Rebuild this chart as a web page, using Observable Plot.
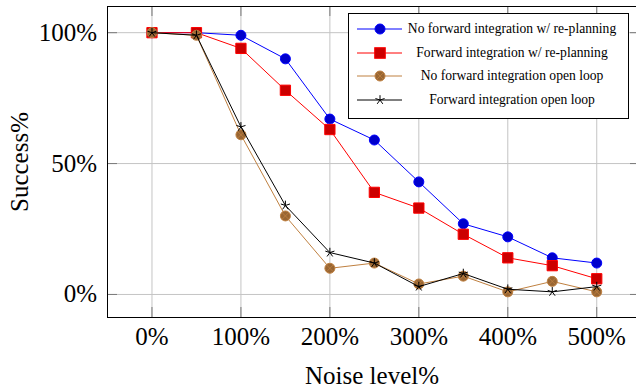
<!DOCTYPE html>
<html>
<head>
<meta charset="utf-8">
<script src="https://cdn.jsdelivr.net/npm/d3@7"></script>
<script src="https://cdn.jsdelivr.net/npm/@observablehq/plot@0.6"></script>
<style>
  html, body { margin: 0; padding: 0; background: #fff; }
  #wrap { position: relative; width: 636px; height: 390px; overflow: hidden; }
  #legend { position: absolute; left: 348px; top: 13px; width: 279px; height: 104px;
            border: 1px solid #000; background: #fff;
            font-family: "Liberation Serif", serif; font-size: 13.6px; color: #000; }
  .row { position: absolute; left: 0; right: 0; height: 20px; }
  .row svg { position: absolute; left: 0; top: 0; }
  .row span { position: absolute; left: 47px; right: 0; text-align: center; line-height: 20px; white-space: nowrap; }
</style>
</head>
<body>
<div id="wrap"><div id="chart"></div><div id="legend"></div></div>
<script>
// ---- data ----
const noise = [0, 50, 100, 150, 200, 250, 300, 350, 400, 450, 500];
const noFwdReplan = [100, 100, 99, 90, 67, 59, 43, 27, 22, 14, 12];
const fwdReplan   = [100, 100, 94, 78, 63, 39, 33, 23, 14, 11, 6];
const noFwdOpen   = [100, 99, 61, 30, 10, 12, 4, 7, 1, 5, 1];
const fwdOpen     = [100, 99, 64, 34, 16, 12, 3, 8, 2, 1, 3];
const seriesNames = [
  "No forward integration w/ re-planning",
  "Forward integration w/ re-planning",
  "No forward integration open loop",
  "Forward integration open loop"
];
const xTicks = [0, 100, 200, 300, 400, 500];
const yTicks = [0, 50, 100];
const xLabel = "Noise level%";
const yLabel = "Success%";

// ---- scales ----
const xDomain = [-50, 544.7];
const yDomain = [-8.8, 110];

const rows = (vals) => noise.map((x, i) => ({x, y: vals[i]}));
const dBlue = rows(noFwdReplan), dRed = rows(fwdReplan), dBrown = rows(noFwdOpen), dBlack = rows(fwdOpen);

// pgf-like 5-ray star
const star5 = {
  draw(ctx, size) {
    const r = Math.sqrt(size / Math.PI);
    for (let i = 0; i < 5; i++) {
      const a = i * 2 * Math.PI / 5;
      ctx.moveTo(0, 0);
      ctx.lineTo(r * Math.sin(a), -r * Math.cos(a));
    }
  }
};

const col = {
  blue: "#0000ff", blueFill: "#0000cc",
  red: "#ff0000", redFill: "#cc0000",
  brown: "#bf8040", brownFill: "#996633",
  black: "#000000"
};

const W = 636, H = 390, mL = 107, mT = 6, mB = 73, mR = 0;
const frameW = W - mL - mR, frameH = H - mT - mB;

const chart = Plot.plot({
  width: W, height: H,
  marginLeft: mL, marginTop: mT, marginBottom: mB, marginRight: mR,
  style: { fontFamily: "Liberation Serif, serif", fontSize: "25px", color: "#000", background: "#fff" },
  x: { domain: xDomain },
  y: { domain: yDomain },
  marks: [
    Plot.gridX(xTicks, { stroke: "#c4c4c4", strokeOpacity: 1 }),
    Plot.gridY(yTicks, { stroke: "#c4c4c4", strokeOpacity: 1 }),
    // inner ticks
    Plot.ruleX(xTicks, { x: d => d, insetTop: frameH - 10, stroke: "#7a7a7a" }),
    Plot.ruleX(xTicks, { x: d => d, insetBottom: frameH - 10, stroke: "#7a7a7a" }),
    Plot.ruleY(yTicks, { y: d => d, insetRight: frameW - 10, stroke: "#7a7a7a" }),
    Plot.ruleY(yTicks, { y: d => d, insetLeft: frameW - 6, stroke: "#7a7a7a" }),
    // frame (left, bottom, top; right edge lies outside the picture)
    Plot.ruleX([xDomain[0]], { stroke: "#000" }),
    Plot.ruleY([yDomain[0], yDomain[1]], { stroke: "#000" }),
    Plot.axisX({ ticks: xTicks, tickFormat: d => d + "%", tickSize: 0, tickPadding: 10,
      label: xLabel, labelAnchor: "center", labelOffset: 66, labelArrow: "none" }),
    Plot.axisY({ ticks: yTicks, tickFormat: d => d + "%", tickSize: 0, tickPadding: 10.5,
      label: yLabel, labelAnchor: "center", labelOffset: 97, labelArrow: "none" }),
    // series 1
    Plot.line(dBlue, { x: "x", y: "y", stroke: col.blue, strokeWidth: 1 }),
    Plot.dot(dBlue, { x: "x", y: "y", r: 5, fill: col.blueFill, stroke: col.blue, strokeWidth: 1 }),
    // series 2
    Plot.line(dRed, { x: "x", y: "y", stroke: col.red, strokeWidth: 1 }),
    Plot.dot(dRed, { x: "x", y: "y", symbol: "square", r: 5.8, fill: col.redFill, stroke: col.red, strokeWidth: 1 }),
    // series 3
    Plot.line(dBrown, { x: "x", y: "y", stroke: col.brown, strokeWidth: 1 }),
    Plot.dot(dBrown, { x: "x", y: "y", r: 5, fill: col.brownFill, stroke: col.brown, strokeWidth: 1 }),
    Plot.dot(dBrown, { x: "x", y: "y", symbol: "times", r: 3.3, fill: "none", stroke: col.brown, strokeWidth: 0.8 }),
    // series 4
    Plot.line(dBlack, { x: "x", y: "y", stroke: col.black, strokeWidth: 1 }),
    Plot.dot(dBlack, { x: "x", y: "y", symbol: star5, r: 4.8, fill: "none", stroke: col.black, strokeWidth: 1 })
  ]
});
document.getElementById("chart").appendChild(chart);

// ---- legend ----
const legend = document.getElementById("legend");
const legendStyles = [
  { line: col.blue, mark: () => `<circle cx="31" cy="10" r="5" fill="${col.blueFill}" stroke="${col.blue}"/>` },
  { line: col.red, mark: () => `<rect x="25.7" y="4.7" width="10.6" height="10.6" fill="${col.redFill}" stroke="${col.red}"/>` },
  { line: col.brown, mark: () => `<circle cx="31" cy="10" r="5" fill="${col.brownFill}" stroke="${col.brown}"/><path d="M27.5,6.5L34.5,13.5M34.5,6.5L27.5,13.5" stroke="${col.brown}" stroke-width="0.8"/>` },
  { line: col.black, mark: () => {
      let d = "";
      for (let i = 0; i < 5; i++) { const a = i * 2 * Math.PI / 5; d += `M31,10L${31 + 4.8 * Math.sin(a)},${10 - 4.8 * Math.cos(a)}`; }
      return `<path d="${d}" stroke="#000" fill="none"/>`;
    } }
];
const rowTops = [5.3, 28.7, 52, 76];
seriesNames.forEach((name, i) => {
  const row = document.createElement("div");
  row.className = "row";
  row.style.top = rowTops[i] + "px";
  const s = legendStyles[i];
  row.innerHTML = `<svg width="62" height="20"><line x1="8" y1="10" x2="53" y2="10" stroke="${s.line}" stroke-width="1"/>${s.mark()}</svg><span>${name}</span>`;
  legend.appendChild(row);
});
</script>
</body>
</html>
